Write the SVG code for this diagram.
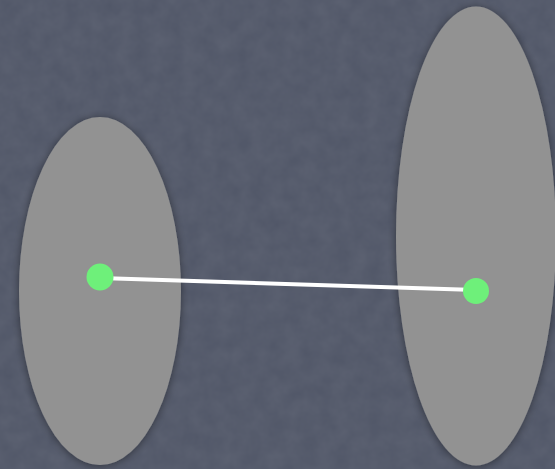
<svg xmlns="http://www.w3.org/2000/svg" width="555" height="469" viewBox="0 0 555 469">
<defs>
<filter id="sh" x="-20%" y="-20%" width="140%" height="140%"><feGaussianBlur in="SourceAlpha" stdDeviation="4"/><feOffset dy="1"/><feComponentTransfer><feFuncA type="linear" slope="0.45"/></feComponentTransfer><feMerge><feMergeNode/><feMergeNode in="SourceGraphic"/></feMerge></filter>
<filter id="tex"><feTurbulence type="fractalNoise" baseFrequency="0.06" numOctaves="3" seed="4"/><feColorMatrix type="matrix" values="0 0 0 0 1  0 0 0 0 1  0 0 0 0 1  0 0 0 0.07 0"/></filter>
<style>
.blob{fill:#929292;filter:url(#sh)}
.dot{fill:#6ef07a}
.edge{stroke:#ffffff;stroke-width:4;fill:none;stroke-linecap:round}
</style>
</defs>
<rect width="555" height="469" fill="#505667"/>
<rect width="555" height="469" filter="url(#tex)"/>
<g id="setA"><ellipse class="blob" cx="100" cy="291" rx="81" ry="174"/></g>
<g id="setB"><ellipse class="blob" cx="476" cy="236" rx="80" ry="229.5"/></g>
<g id="connectors"><line class="edge" x1="100" y1="278" x2="476" y2="290"/></g>
<g id="nodeA"><circle class="dot" cx="100" cy="277" r="13.5"/></g>
<g id="nodeB"><circle class="dot" cx="476" cy="291" r="13"/></g>
</svg>
